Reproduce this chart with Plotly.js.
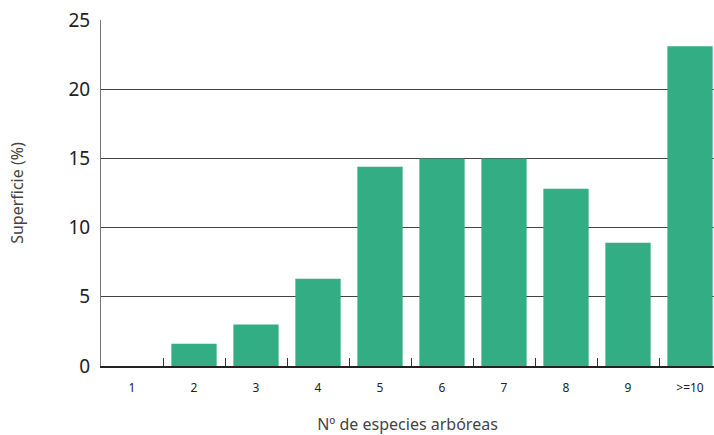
<!DOCTYPE html>
<html><head><meta charset="utf-8">
<script src="https://cdn.plot.ly/plotly-3.0.1.min.js"></script>
<style>html,body{margin:0;padding:0;background:#fff}#c{width:714px;height:435px}</style>
</head><body><div id="c"></div>
<script>
const categories = ["1","2","3","4","5","6","7","8","9",">=10"];
const superficie = [0, 1.6, 3.0, 6.3, 14.4, 15.0, 15.0, 12.8, 8.9, 23.1];
const yTicks = [0, 5, 10, 15, 20, 25];

const trace = {
  type: "bar", x: categories, y: superficie,
  marker: {color: "#33ad84"}, hoverinfo: "x+y"
};
const layout = {
  width: 714, height: 435,
  margin: {l: 101, r: 0, t: 20, b: 69},
  paper_bgcolor: "#fff", plot_bgcolor: "#fff",
  font: {family: "Noto Sans, Open Sans, sans-serif", color: "#222"},
  bargap: 0.27,
  showlegend: false,
  xaxis: {
    type: "category", range: [-0.5, 9.387],
    tickson: "boundaries", ticks: "inside", ticklen: 8, tickcolor: "#333", tickwidth: 1,
    showline: true, linecolor: "#222", linewidth: 2,
    showgrid: false, zeroline: false,
    tickfont: {size: 12, color: "#222"}, ticklabelstandoff: 10,
    title: {text: "Nº de especies arbóreas", font: {size: 16, color: "#444"}, standoff: 24}
  },
  yaxis: {
    range: [0, 25], tickvals: yTicks, ticks: "",
    showline: true, linecolor: "#777", linewidth: 1,
    showgrid: true, gridcolor: "#444", gridwidth: 1, zeroline: false,
    tickfont: {size: 19, color: "#222"}, ticklabelstandoff: 6,
    title: {text: "Superficie (%)", font: {size: 16, color: "#444"}, standoff: 40}
  }
};
Plotly.newPlot("c", [trace], layout, {displayModeBar: false, staticPlot: true});
</script></body></html>
